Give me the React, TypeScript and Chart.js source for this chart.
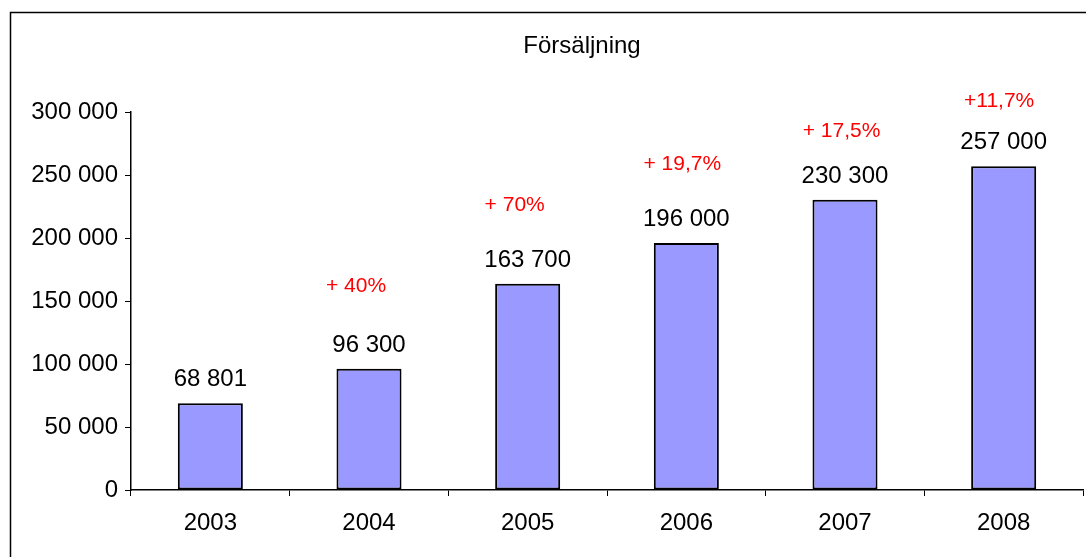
import React, { useEffect, useRef } from "react";
import { Chart, registerables } from "chart.js";

Chart.register(...registerables);

const years = ["2003", "2004", "2005", "2006", "2007", "2008"];
const sales = [68801, 96300, 163700, 196000, 230300, 257000];
const growthLabels = ["", "+ 40%", "+ 70%", "+ 19,7%", "+ 17,5%", "+11,7%"];
const chartTitle = "Försäljning";

const FONT = "'Liberation Sans', Arial, sans-serif";

const fmt = (v: number) =>
  String(Math.round(v)).replace(/\B(?=(\d{3})+(?!\d))/g, " ");

// pixel offsets of the growth annotations (dx from bar centre, baseline distance above bar top)
const growthOffsets: [number, number][] = [
  [0, 0],
  [-13, 77],
  [-13, 73],
  [-4, 73],
  [-3.5, 63],
  [-4.5, 59],
];

const decorPlugin = {
  id: "decor",
  beforeDraw(chart: any) {
    const ctx = chart.ctx;
    ctx.save();
    ctx.fillStyle = "#ffffff";
    ctx.fillRect(0, 0, chart.width, chart.height);
    ctx.strokeStyle = "#000000";
    ctx.lineWidth = 1.5;
    ctx.strokeRect(10.5, 12.5, 3000, 3000);
    ctx.restore();
  },
  afterDraw(chart: any) {
    const ctx = chart.ctx;
    ctx.save();
    ctx.fillStyle = "#000000";
    ctx.font = `24px ${FONT}`;
    ctx.textAlign = "center";
    ctx.textBaseline = "alphabetic";
    ctx.fillText(chartTitle, 582, 53);

    const meta = chart.getDatasetMeta(0);
    meta.data.forEach((bar: any, i: number) => {
      ctx.fillStyle = "#000000";
      ctx.font = `24px ${FONT}`;
      ctx.fillText(fmt(sales[i]), bar.x, bar.y - 17);
      if (growthLabels[i]) {
        const [dx, dy] = growthOffsets[i];
        ctx.fillStyle = "#ff0000";
        ctx.font = `21px ${FONT}`;
        ctx.fillText(growthLabels[i], bar.x + dx, bar.y - dy);
      }
    });
    ctx.restore();
  },
};

export default function App() {
  const ref = useRef<HTMLCanvasElement>(null);
  useEffect(() => {
    if (!ref.current) return;
    const chart = new Chart(ref.current, {
      type: "bar",
      data: {
        labels: years,
        datasets: [
          {
            data: sales,
            backgroundColor: "#9999ff",
            borderColor: "#000000",
            borderWidth: 2,
            borderSkipped: false,
            categoryPercentage: 1,
            barPercentage: 0.41,
          },
        ],
      },
      options: {
        animation: false,
        responsive: false,
        devicePixelRatio: 1,
        layout: { padding: { left: 0, right: 3, top: 112, bottom: 0 } },
        plugins: {
          legend: { display: false },
          tooltip: { enabled: false },
          title: { display: false },
        },
        scales: {
          x: {
            offset: true,
            grid: {
              display: true,
              drawOnChartArea: false,
              drawTicks: true,
              tickLength: 6,
              tickColor: "#000000",
              tickWidth: 1,
              offset: true,
            },
            border: { display: true, color: "#000000", width: 1.5 },
            ticks: {
              color: "#000000",
              font: { family: FONT, size: 24 },
              padding: 13,
              maxRotation: 0,
            },
            afterFit: (scale: any) => {
              scale.height = 67;
            },
          },
          y: {
            min: 0,
            max: 300000,
            grid: {
              display: true,
              drawOnChartArea: false,
              drawTicks: true,
              tickLength: 6,
              tickColor: "#000000",
              tickWidth: 1,
            },
            border: { display: true, color: "#000000", width: 1.5 },
            ticks: {
              stepSize: 50000,
              color: "#000000",
              font: { family: FONT, size: 24 },
              padding: 7,
              callback: (v: any) => fmt(Number(v)),
            },
            afterFit: (scale: any) => {
              scale.width = 131;
            },
          },
        },
      },
      plugins: [decorPlugin],
    });
    return () => chart.destroy();
  }, []);
  return (
    <div style={{ position: "absolute", left: 0, top: 0, width: 1086, height: 557 }}>
      <canvas ref={ref} width={1086} height={557} style={{ display: "block", width: 1086, height: 557 }} />
    </div>
  );
}
